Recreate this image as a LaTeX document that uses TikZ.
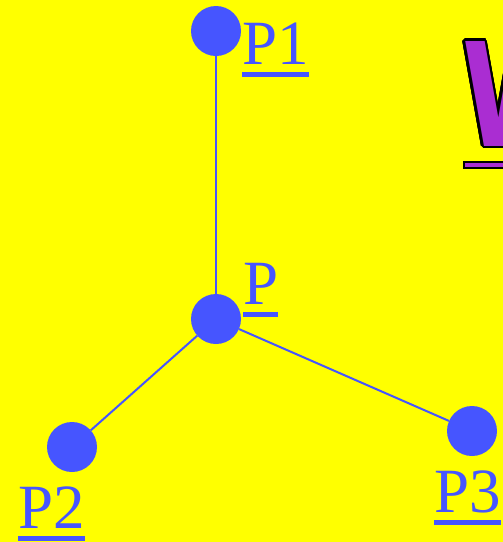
\documentclass[tikz,border=0pt]{standalone}
\usepackage{fontspec}
\setmainfont{Liberation Serif}
\newfontfamily\wfont[FakeStretch=0.75]{DejaVu Sans}
\usepackage{contour}
\contourlength{2.5pt}
\usepackage{tikz}
\usetikzlibrary{calc}
\definecolor{bgyellow}{RGB}{255,255,0}
\definecolor{ptblue}{RGB}{70,85,255}
\definecolor{wpurple}{RGB}{170,45,210}
\newcommand{\ptul}[1]{\setbox0\hbox{#1}\rlap{\rule[-13pt]{\wd0}{5pt}}\box0}
\tikzstyle{point} = [circle, fill=ptblue, minimum size=50pt, inner sep=0pt]
\tikzstyle{ptlabel} = [anchor=base west, inner sep=0pt, text=ptblue, font=\fontsize{63}{70}\selectfont]
\tikzstyle{link} = [draw=ptblue, line width=2pt]
\tikzstyle{bigletter} = [anchor=base west, inner sep=0pt, text=wpurple, font=\wfont\bfseries\fontsize{144}{150}\selectfont]

\begin{document}
\begin{tikzpicture}[x=1pt, y=-1pt]
        \fill [bgyellow] (0,0) rectangle (503,542);
        \useasboundingbox (0,0) rectangle (503,542);

        \node (p1) [point] at (216,31) {};
        \node (p) [point] at (216,319) {};
        \node (p2) [point] at (72,447) {};
        \node (p3) [point] at (472,431) {};

        \draw [link] (p1) -- (p);
        \draw [link] (p) -- (p2);
        \draw [link] (p) -- (p3);

        \node (l1) [ptlabel] at (242,64) {\ptul{P1}};
        \node (l) [ptlabel] at (243,304) {\ptul{P}};
        \node (l2) [ptlabel] at (18,528) {\ptul{P2}};
        \node (l3) [ptlabel] at (434,512) {\ptul{P3}};

        \node (w) [bigletter] at (462,146) {\contour{black}{W}};
        \draw [black, line width=2.5pt, fill=wpurple] ($(w.base west)+(2,16)$) rectangle (530,168);
\end{tikzpicture}
\end{document}
